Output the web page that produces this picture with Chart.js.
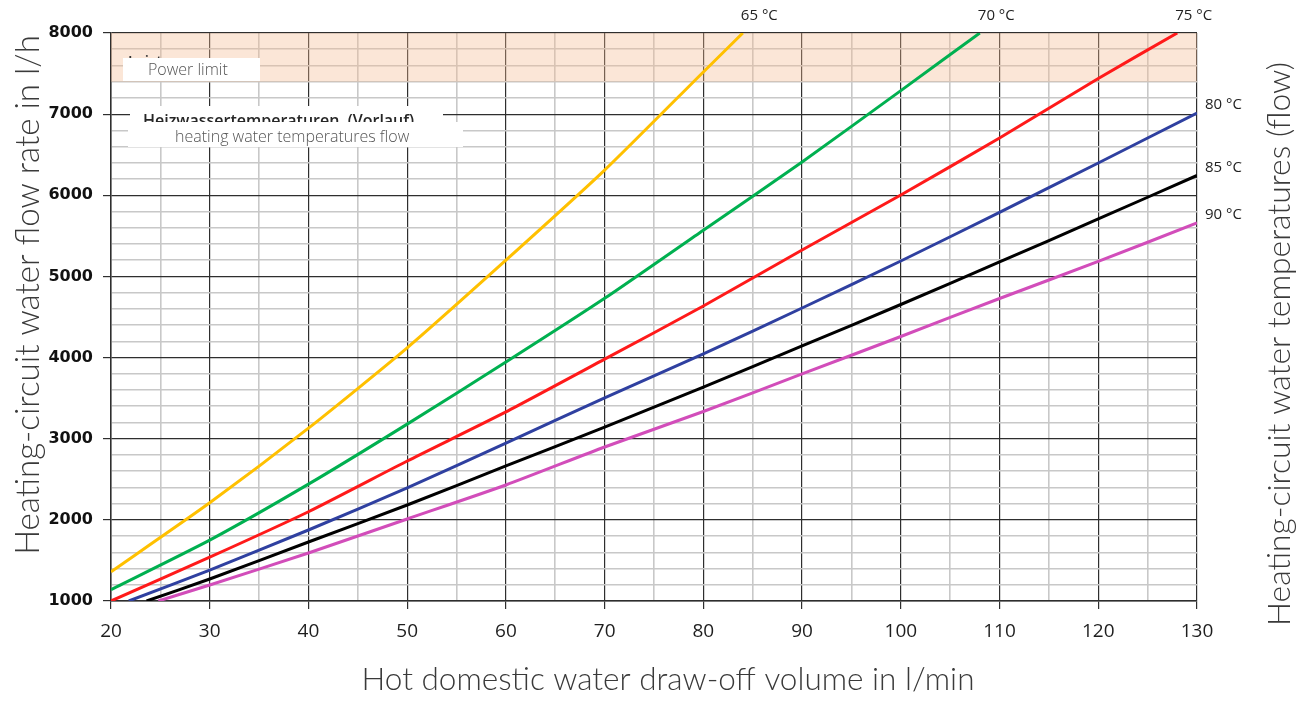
<!DOCTYPE html>
<html>
<head>
<meta charset="utf-8">
<title>Heating-circuit water flow rate</title>
<script src="https://cdn.jsdelivr.net/npm/chart.js@4.4.1/dist/chart.umd.min.js"></script>
<style>
    html, body { margin: 0; padding: 0; background: #fff; }
    #wrap { position: relative; width: 1306px; height: 701px; }
</style>
</head>
<body>
<div id="wrap"><canvas id="chart" width="1306" height="701"></canvas></div>
<script>
// Datos (caudal en l/h según caudal de extracción en l/min)
const temps = ['65 °C', '70 °C', '75 °C', '80 °C', '85 °C', '90 °C'];
const lineColors = ['#ffc000', '#00b050', '#ff1a1a', '#2f40a0', '#000000', '#d24dba'];

const x65 = [20, 30, 40, 50, 60, 70, 80, 84];
const y65 = [1360, 2210, 3130, 4120, 5200, 6310, 7520, 8000];
const x70 = [20, 30, 40, 50, 60, 70, 80, 90, 100, 108];
const y70 = [1140, 1750, 2440, 3180, 3945, 4730, 5570, 6410, 7290, 8000];
const x75 = [20, 30, 40, 50, 60, 70, 80, 90, 100, 110, 120, 128];
const y75 = [1000, 1540, 2100, 2725, 3330, 3980, 4635, 5326, 6004, 6706, 7440, 8000];
const x80 = [21.8, 30, 40, 50, 60, 70, 80, 90, 100, 110, 120, 130];
const y80 = [1000, 1380, 1875, 2393, 2947, 3502, 4045, 4611, 5190, 5790, 6398, 7014];
const x85 = [23.6, 30, 40, 50, 60, 70, 80, 90, 100, 110, 120, 130];
const y85 = [1000, 1271, 1727, 2183, 2664, 3144, 3637, 4143, 4654, 5178, 5708, 6244];
const x90 = [24.8, 30, 40, 50, 60, 70, 80, 90, 100, 110, 120, 130];
const y90 = [1000, 1197, 1592, 2011, 2430, 2898, 3335, 3798, 4260, 4728, 5185, 5659];

const xSeries = [x65, x70, x75, x80, x85, x90];
const ySeries = [y65, y70, y75, y80, y85, y90];

// Límite de potencia (banda sombreada)
const powerLimitFrom = 7400;
const powerLimitTo = 8000;

// Texto escalado a un ancho dado
function fitText(ctx, text, width, baseSize) {
    ctx.font = '300 ' + baseSize + 'px Lato, "Open Sans", sans-serif';
    const w = ctx.measureText(text).width;
    const size = baseSize * width / w;
    ctx.font = '300 ' + size.toFixed(2) + 'px Lato, "Open Sans", sans-serif';
}

const decorPlugin = {
    id: 'decor',
    beforeDatasetsDraw(chart) {
        const { ctx, chartArea, scales } = chart;
        const yTop = scales.y.getPixelForValue(powerLimitTo);
        const yBot = scales.y.getPixelForValue(powerLimitFrom);
        ctx.save();
        ctx.fillStyle = 'rgba(245, 185, 145, 0.36)';
        ctx.fillRect(chartArea.left, yTop, chartArea.right - chartArea.left, yBot - yTop);
        ctx.restore();
    },
    afterDraw(chart) {
        const { ctx, chartArea } = chart;
        ctx.save();

        // Cuadro "Power limit"
        ctx.fillStyle = '#333';
        ctx.font = '600 15px "Open Sans", sans-serif';
        ctx.textBaseline = 'alphabetic';
        ctx.fillText('Leistungsgrenze', 128, 66);
        ctx.fillStyle = '#fff';
        ctx.fillRect(123, 58, 137, 23);
        ctx.fillStyle = '#555';
        ctx.font = '300 16px "Open Sans", sans-serif';
        ctx.textBaseline = 'middle';
        ctx.fillText('Power limit', 148, 70);

        // Cuadro de temperaturas
        ctx.fillStyle = '#fff';
        ctx.fillRect(130, 106, 313, 17);
        ctx.fillStyle = '#262626';
        ctx.font = '600 16px "Open Sans", sans-serif';
        ctx.textBaseline = 'alphabetic';
        ctx.fillText('Heizwassertemperaturen  (Vorlauf)', 143, 126);
        ctx.fillStyle = '#fff';
        ctx.fillRect(128, 122, 335, 25);
        ctx.fillStyle = '#555';
        ctx.font = '300 16px "Open Sans", sans-serif';
        ctx.textBaseline = 'middle';
        ctx.fillText('heating water temperatures flow', 175, 137);

        // Etiquetas de temperatura al final de cada curva
        ctx.fillStyle = '#222';
        ctx.font = '15px "Open Sans", sans-serif';
        ctx.textBaseline = 'middle';
        ctx.textAlign = 'left';
        chart.data.datasets.forEach((ds, i) => {
            const meta = chart.getDatasetMeta(i);
            const last = meta.data[meta.data.length - 1];
            if (ds.data[ds.data.length - 1].y >= powerLimitTo) {
                ctx.fillText(temps[i], last.x - 2, chartArea.top - 17);
            } else {
                ctx.fillText(temps[i], chartArea.right + 8, last.y - 8);
            }
        });

        // Títulos de ejes
        ctx.fillStyle = '#3a3a3a';
        ctx.textAlign = 'center';
        ctx.textBaseline = 'middle';
        fitText(ctx, 'Hot domestic water draw-off volume in l/min', 613, 30);
        ctx.fillText('Hot domestic water draw-off volume in l/min', 668, 680);

        ctx.save();
        ctx.translate(28, 295);
        ctx.rotate(-Math.PI / 2);
        fitText(ctx, 'Heating-circuit water flow rate in l/h', 520, 30);
        ctx.fillText('Heating-circuit water flow rate in l/h', 0, 0);
        ctx.restore();

        ctx.save();
        ctx.translate(1280, 344);
        ctx.rotate(-Math.PI / 2);
        fitText(ctx, 'Heating-circuit water temperatures (flow)', 564, 30);
        ctx.fillText('Heating-circuit water temperatures (flow)', 0, 0);
        ctx.restore();

        ctx.restore();
    }
};

const datasets = temps.map((t, i) => ({
    label: t,
    data: xSeries[i].map((x, j) => ({ x: x, y: ySeries[i][j] })),
    borderColor: lineColors[i],
    backgroundColor: lineColors[i],
    borderWidth: 3,
    pointRadius: 0,
    tension: 0.2,
    fill: false
}));

new Chart(document.getElementById('chart'), {
    type: 'line',
    data: { datasets: datasets },
    plugins: [decorPlugin],
    options: {
        responsive: false,
        animation: false,
        layout: { padding: { top: 33, right: 109, left: 0, bottom: 0 } },
        plugins: {
            legend: { display: false },
            tooltip: { enabled: false }
        },
        scales: {
            x: {
                type: 'linear',
                min: 20,
                max: 130,
                afterFit(scale) { scale.height = 100; },
                ticks: {
                    stepSize: 5,
                    autoSkip: false,
                    maxRotation: 0,
                    padding: 11,
                    color: '#1e1e1e',
                    font: { family: '"Open Sans", sans-serif', size: 19 },
                    callback: v => (v % 10 === 0 ? v : '')
                },
                grid: {
                    color: c => (c.tick && c.tick.value % 10 === 0 ? '#2e2e2e' : '#c8c8c8'),
                    lineWidth: c => (c.tick && c.tick.value % 10 === 0 ? 1.2 : 1.6),
                    tickColor: c => (c.tick && c.tick.value % 10 === 0 ? '#2e2e2e' : 'rgba(0,0,0,0)'),
                    tickLength: 8
                },
                border: { color: '#2e2e2e', width: 1.5 }
            },
            y: {
                type: 'linear',
                min: 1000,
                max: 8000,
                afterFit(scale) { scale.width = 111; },
                ticks: {
                    stepSize: 200,
                    autoSkip: false,
                    padding: 10,
                    color: '#111',
                    font: { family: '"DejaVu Sans", sans-serif', size: 16, weight: 'bold' },
                    callback: v => (v % 1000 === 0 ? v : '')
                },
                grid: {
                    color: c => (c.tick && c.tick.value % 1000 === 0 ? '#2e2e2e' : '#c8c8c8'),
                    lineWidth: c => (c.tick && c.tick.value % 1000 === 0 ? 1.2 : 1.6),
                    tickColor: c => (c.tick && c.tick.value % 1000 === 0 ? '#2e2e2e' : 'rgba(0,0,0,0)'),
                    tickLength: 8
                },
                border: { color: '#2e2e2e', width: 1.5 }
            }
        }
    }
});
</script>
</body>
</html>
